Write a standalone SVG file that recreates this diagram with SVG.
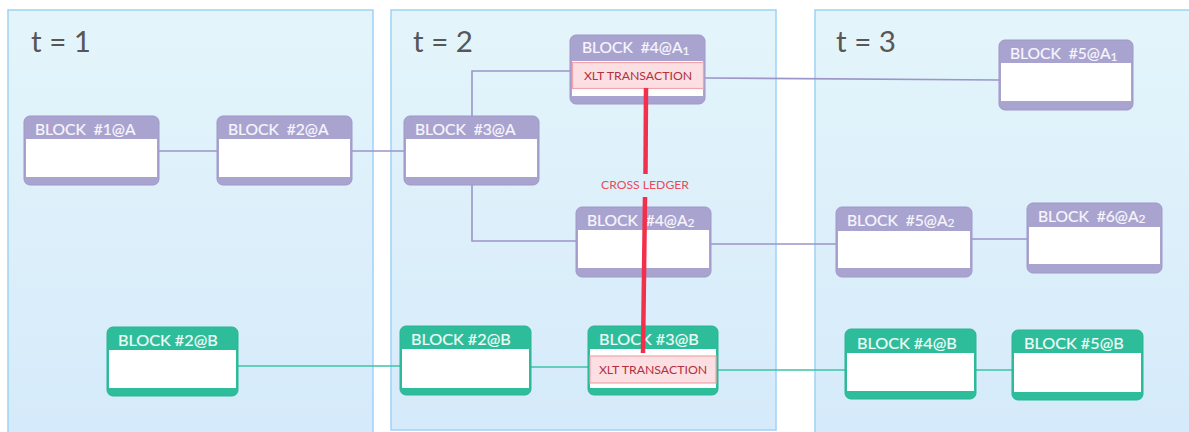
<svg xmlns="http://www.w3.org/2000/svg" width="1189" height="432" viewBox="0 0 1189 432">
<defs>
<linearGradient id="pg" x1="0" y1="0" x2="0" y2="1">
<stop offset="0" stop-color="#e4f5fa"/>
<stop offset="1" stop-color="#d5eafa"/>
</linearGradient>
<style>
.panel{fill:url(#pg);stroke:#9fd2f6;stroke-width:1.5}
.ttl{font-family:Lato,"Liberation Sans",sans-serif;font-size:29.5px;fill:#575757}
.pa{fill:#a9a3d0;stroke:#9f98c8;stroke-width:1}
.gb{fill:#2ebd9b;stroke:#2bb594;stroke-width:1}
.wb{fill:#ffffff}
.ht{font-family:Lato,"Liberation Sans",sans-serif;font-size:15.6px;fill:#f7f6fc;stroke:#f7f6fc;stroke-width:0.2;white-space:pre}
.htg{font-family:Lato,"Liberation Sans",sans-serif;font-size:16.2px;fill:#effbf7;stroke:#effbf7;stroke-width:0.2;white-space:pre}
.sub{font-size:12px}
.xb{fill:#fbdfe2;stroke:#f2a3ab;stroke-width:1.2}
.xt{font-family:Lato,"Liberation Sans",sans-serif;font-size:12.3px;fill:#b3303f;text-anchor:middle}
.cp{fill:none;stroke:#9c95c8;stroke-width:1.6}
.cg{fill:none;stroke:#3cc4a4;stroke-width:1.6}
.red{fill:none;stroke:#f2304c;stroke-width:4.5}
.cl{font-family:Lato,"Liberation Sans",sans-serif;font-size:12.2px;fill:#ea4a5c;text-anchor:middle}
</style>
</defs>
<rect width="1189" height="432" fill="#ffffff"/>
<g id="panels">
<rect class="panel" x="8" y="10" width="365" height="430"/>
<text class="ttl" x="31" y="52">t = 1</text>
<rect class="panel" x="391" y="10" width="385" height="420"/>
<text class="ttl" x="413" y="52">t = 2</text>
<rect class="panel" x="815" y="10" width="380" height="430"/>
<text class="ttl" x="836" y="52">t = 3</text>
</g>
<g id="connectors">
<path class="cp" d="M159,151 H217"/>
<path class="cp" d="M352,151 H404"/>
<path class="cp" d="M472,116 V71 H570"/>
<path class="cp" d="M472,185 V241 H576"/>
<path class="cp" d="M705,78 L999,80"/>
<path class="cp" d="M711,244 H836"/>
<path class="cp" d="M972,239 H1027"/>
<path class="cg" d="M238,366 H400"/>
<path class="cg" d="M531,367 H588"/>
<path class="cg" d="M718,370 H845"/>
<path class="cg" d="M976,370 H1012"/>
</g>
<g id="n1A">
<rect class="pa" x="24" y="116" width="135" height="69" rx="6"/>
<rect class="wb" x="26" y="139" width="131" height="38"/>
<text class="ht" x="35" y="135" xml:space="preserve">BLOCK  #1@A</text>
</g>
<g id="n2A">
<rect class="pa" x="217" y="116" width="135" height="69" rx="6"/>
<rect class="wb" x="219" y="139" width="131" height="38"/>
<text class="ht" x="228" y="135" xml:space="preserve">BLOCK  #2@A</text>
</g>
<g id="n3A">
<rect class="pa" x="404" y="116" width="135" height="69" rx="6"/>
<rect class="wb" x="406" y="139" width="131" height="38"/>
<text class="ht" x="415" y="135" xml:space="preserve">BLOCK  #3@A</text>
</g>
<g id="n4A1">
<rect class="pa" x="570" y="35" width="135" height="69" rx="6"/>
<rect class="wb" x="572" y="61" width="131" height="35"/>
<rect class="xb" x="572.5" y="62.5" width="131" height="26"/>
<text class="xt" x="638" y="80">XLT TRANSACTION</text>
<text class="ht" x="582" y="53" xml:space="preserve">BLOCK  #4@A<tspan class="sub" dy="2">1</tspan></text>
</g>
<g id="n5A1">
<rect class="pa" x="999" y="40" width="134" height="70" rx="6"/>
<rect class="wb" x="1001" y="63" width="130" height="38"/>
<text class="ht" x="1010" y="59" xml:space="preserve">BLOCK  #5@A<tspan class="sub" dy="2">1</tspan></text>
</g>
<g id="n4A2">
<rect class="pa" x="576" y="207" width="135" height="70" rx="6"/>
<rect class="wb" x="578" y="230" width="131" height="38"/>
<text class="ht" x="587" y="226" xml:space="preserve">BLOCK  #4@A<tspan class="sub" dy="1">2</tspan></text>
</g>
<g id="n5A2">
<rect class="pa" x="836" y="207" width="136" height="70" rx="6"/>
<rect class="wb" x="838" y="231" width="132" height="37"/>
<text class="ht" x="847" y="226" xml:space="preserve">BLOCK  #5@A<tspan class="sub" dy="1">2</tspan></text>
</g>
<g id="n6A2">
<rect class="pa" x="1027" y="203" width="135" height="70" rx="6"/>
<rect class="wb" x="1029" y="227" width="131" height="37"/>
<text class="ht" x="1038" y="222" xml:space="preserve">BLOCK  #6@A<tspan class="sub" dy="1">2</tspan></text>
</g>
<g id="n2B1">
<rect class="gb" x="107" y="327" width="131" height="69" rx="6"/>
<rect class="wb" x="109" y="350" width="127" height="38"/>
<text class="htg" x="118" y="346">BLOCK #2@B</text>
</g>
<g id="n2B2">
<rect class="gb" x="400" y="326" width="131" height="69" rx="6"/>
<rect class="wb" x="402" y="349" width="127" height="39"/>
<text class="htg" x="411" y="345">BLOCK #2@B</text>
</g>
<g id="n3B">
<rect class="gb" x="588" y="326" width="130" height="69" rx="6"/>
<rect class="wb" x="590" y="349" width="126" height="39"/>
<rect class="xb" x="590" y="356" width="126" height="27"/>
<text class="xt" x="653" y="374">XLT TRANSACTION</text>
<text class="htg" x="599" y="345">BLOCK #3@B</text>
</g>
<g id="n4B">
<rect class="gb" x="845" y="329" width="131" height="70" rx="6"/>
<rect class="wb" x="847" y="353" width="127" height="38"/>
<text class="htg" x="857" y="349">BLOCK #4@B</text>
</g>
<g id="n5B">
<rect class="gb" x="1012" y="330" width="131" height="70" rx="6"/>
<rect class="wb" x="1014" y="353" width="127" height="39"/>
<text class="htg" x="1024" y="349">BLOCK #5@B</text>
</g>
<g id="crossledger">
<path class="red" d="M646,88 L645.5,174"/>
<path class="red" d="M645,197 L643,353"/>
<text class="cl" x="645" y="189">CROSS LEDGER</text>
</g>
</svg>
